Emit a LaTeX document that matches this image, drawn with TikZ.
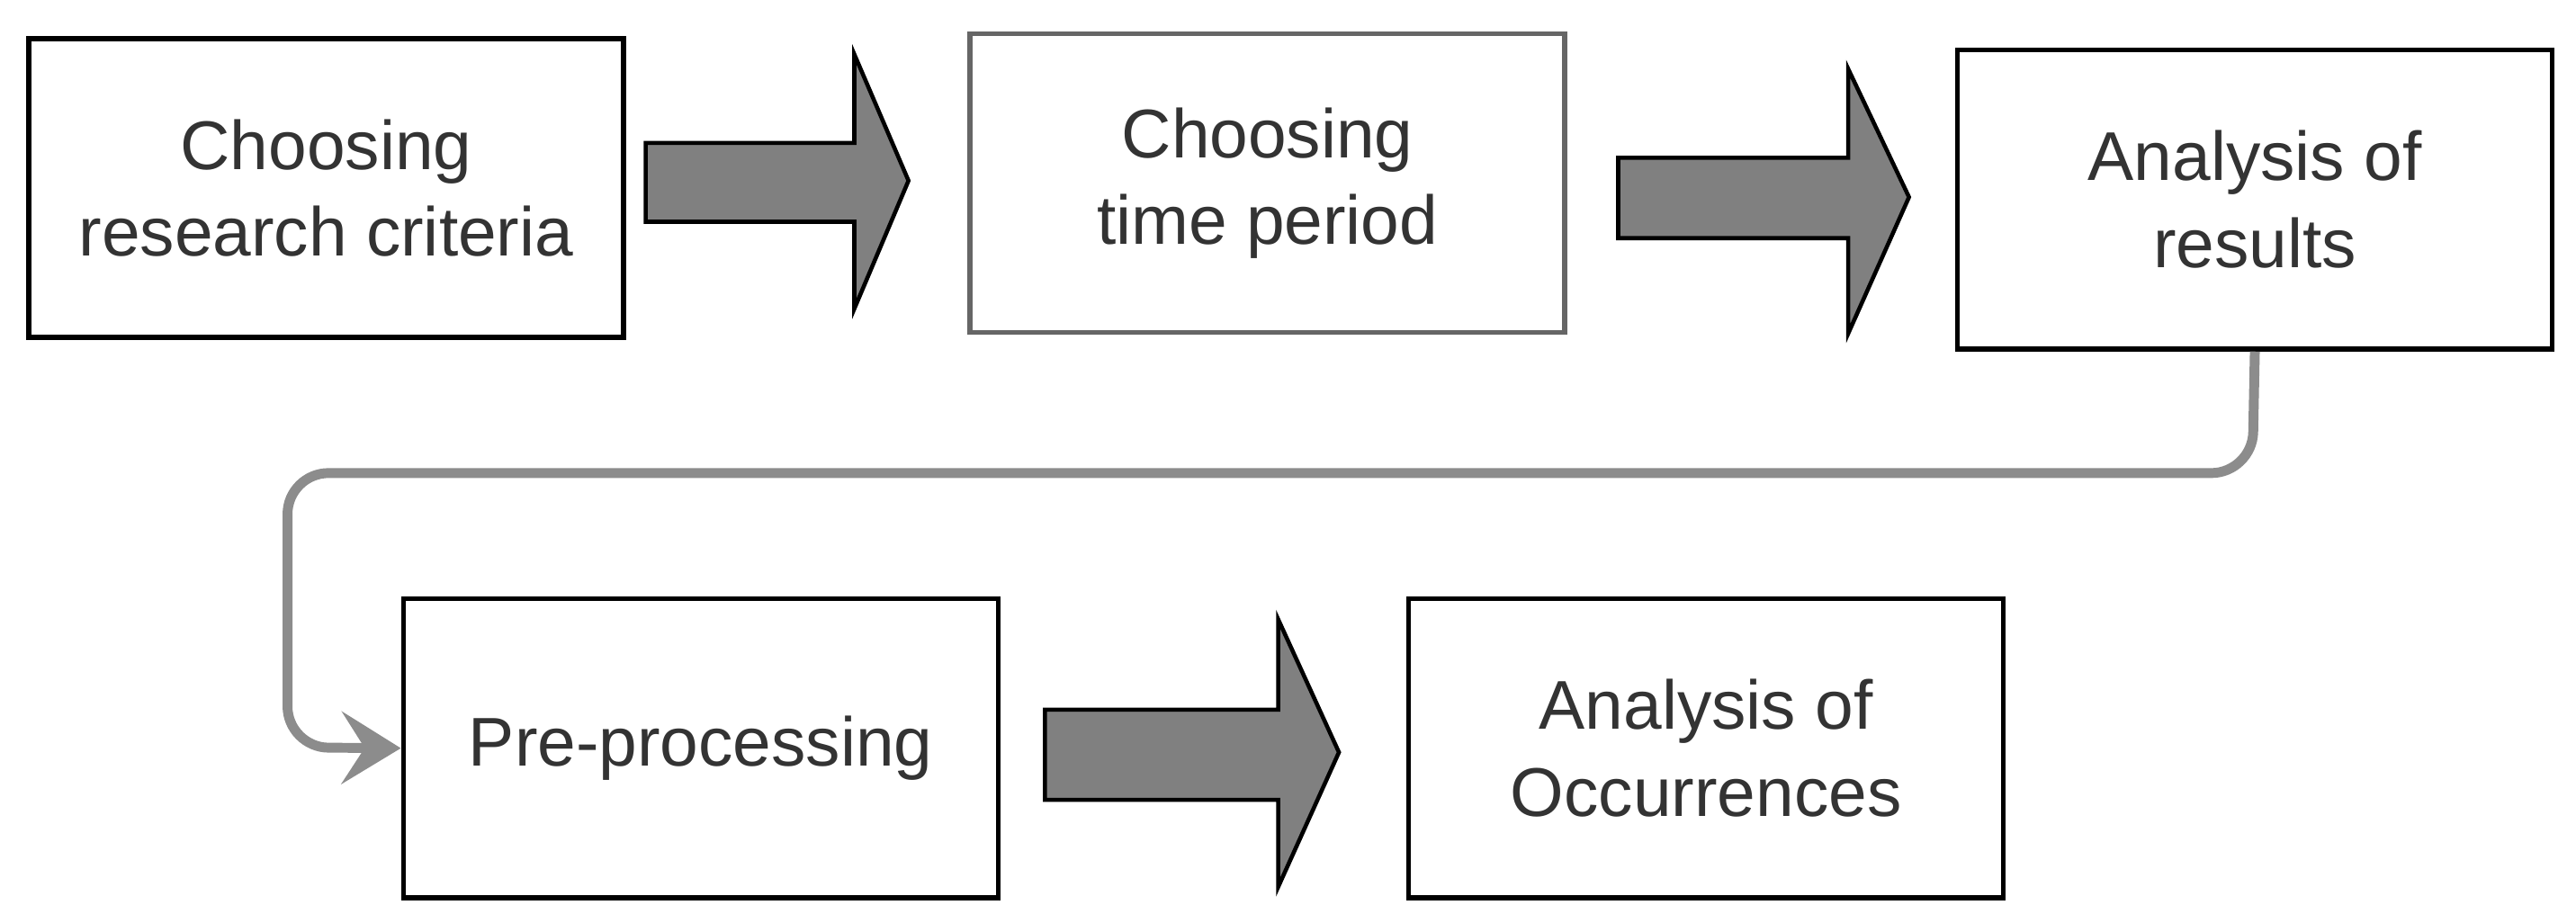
\documentclass[tikz,border=0pt]{standalone}
\usepackage{fontspec}
\setmainfont{Liberation Sans}
\usetikzlibrary{arrows.meta}
\begin{document}
\begin{tikzpicture}[x=1pt,y=-1pt,
  stepbox/.style={draw=black,line width=3pt,fill=white,minimum width=362pt,minimum height=182pt,align=center,inner sep=0pt,font=\fontsize{42}{53}\selectfont,text=black!80},
  blockarrow/.style={draw=black,line width=2.5pt,fill=black!50}]
\useasboundingbox (0,0) rectangle (1568,556);
\node[stepbox,anchor=north west] (b1) at (16,22) {Choosing\\research criteria};
\node[stepbox,anchor=north west,draw=black!60] (b2) at (589,19) {Choosing\\time period};
\node[stepbox,anchor=north west] (b3) at (1190,29) {Analysis of\\results};
\node[stepbox,anchor=north west] (b4) at (244,363) {Pre-processing};
\node[stepbox,anchor=north west] (b5) at (856,363) {Analysis of\\Occurrences};
\draw[blockarrow] (393,87) -- (520,87) -- (520,33) -- (553,110) -- (520,188) -- (520,135) -- (393,135) -- cycle;
\draw[blockarrow] (985,96) -- (1125,96) -- (1125,42) -- (1162,120) -- (1125,203) -- (1125,145) -- (985,145) -- cycle;
\draw[blockarrow] (636,432) -- (778,432) -- (778,377) -- (815,458) -- (778,540) -- (778,487) -- (636,487) -- cycle;
\coordinate (c1) at (1371,288);
\coordinate (c2) at (175,288);
\coordinate (c3) at (175,455);
\draw[draw=black!45,line width=6pt,rounded corners=25pt,-{Stealth[length=36pt,width=44pt,inset=14pt,fill=black!45]}]
  (b3.south) -- (c1) -- (c2) -- (c3) -- (b4.west);
\end{tikzpicture}
\end{document}
